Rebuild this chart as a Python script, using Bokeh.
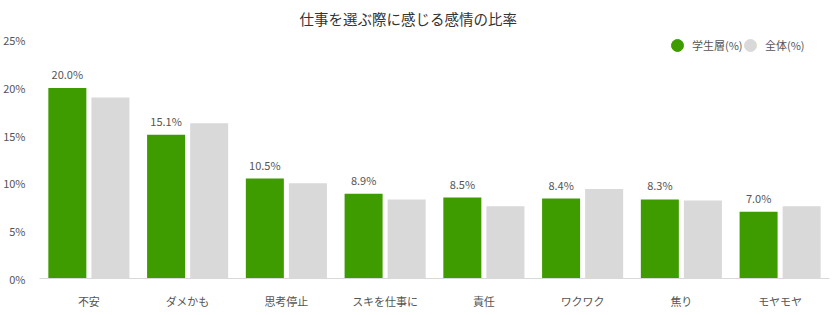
from bokeh.plotting import figure
from bokeh.models import ColumnDataSource, Legend, LegendItem, PrintfTickFormatter, LabelSet
from bokeh.core.properties import value
from bokeh.transform import dodge
from bokeh.embed import file_html
from bokeh.resources import INLINE

categories = ["不安", "ダメかも", "思考停止", "スキを仕事に", "責任", "ワクワク", "焦り", "モヤモヤ"]
students = [20.0, 15.1, 10.5, 8.9, 8.5, 8.4, 8.3, 7.0]
overall = [19.0, 16.3, 10.0, 8.3, 7.6, 9.4, 8.2, 7.6]
yticks = [0, 5, 10, 15, 20, 25]

FONT = "Noto Sans CJK JP"
GREEN = "#3f9c00"
GRAY = "#d9d9d9"

src = ColumnDataSource(dict(
    cat=categories, s=students, o=overall,
    lbl=[f"{v:.1f}%" for v in students],
))

p = figure(x_range=categories, y_range=(0, 26.05), width=840, height=315,
           output_backend="svg", toolbar_location=None,
           min_border_left=39, min_border_right=11, min_border_top=30, min_border_bottom=37)

g = p.vbar(x=dodge("cat", -0.218, range=p.x_range), top="s", width=0.385, source=src,
           color=GREEN, line_color=None)
h = p.vbar(x=dodge("cat", 0.218, range=p.x_range), top="o", width=0.385, source=src,
           color=GRAY, line_color=None)

labels = LabelSet(x=dodge("cat", -0.218, range=p.x_range), y="s", text="lbl", source=src,
                  text_align="center", text_baseline="bottom", y_offset=6,
                  text_font=value(FONT), text_font_size=value("11px"), text_color="#555555")
p.add_layout(labels)

# legend glyphs (not drawn in the plot area)
dummy = ColumnDataSource(dict(x=[categories[0]], y=[float("nan")]))
lg = p.scatter("x", "y", source=dummy, size=14, color=GREEN)
lo = p.scatter("x", "y", source=dummy, size=14, color=GRAY)
common = dict(label_text_font=FONT, label_text_font_size="11px", label_text_color="#555555",
              background_fill_alpha=0, border_line_color=None,
              glyph_width=30, glyph_height=30, label_standoff=0, margin=0, padding=0)
legend_a = Legend(items=[LegendItem(label="学生層(%)", renderers=[lg])], **common)
legend_a.location = (623, 218)
legend_b = Legend(items=[LegendItem(label="全体(%)", renderers=[lo])], **common)
legend_b.location = (696, 218)
p.add_layout(legend_a)
p.add_layout(legend_b)

p.title.text = "仕事を選ぶ際に感じる感情の比率"
p.title.text_font = FONT
p.title.text_font_size = "14.5px"
p.title.text_font_style = "normal"
p.title.text_color = "#333333"
p.title.align = "left"
p.title.offset = 260
p.title.standoff = 4

p.yaxis.ticker = yticks
p.yaxis.formatter = PrintfTickFormatter(format="%d%%")
p.yaxis.axis_line_color = None
p.yaxis.major_tick_line_color = None
p.yaxis.minor_tick_line_color = None
p.yaxis.major_label_text_font = FONT
p.yaxis.major_label_text_font_size = "11px"
p.yaxis.major_label_text_color = "#555555"
p.yaxis.major_label_standoff = 8

p.xaxis.axis_line_color = GRAY
p.xaxis.major_tick_line_color = None
p.xaxis.minor_tick_line_color = None
p.xaxis.major_label_text_font = FONT
p.xaxis.major_label_text_font_size = "11px"
p.xaxis.major_label_text_color = "#555555"
p.xaxis.major_label_standoff = 8

p.xgrid.grid_line_color = None
p.ygrid.grid_line_color = None
p.outline_line_color = None
p.x_range.range_padding = 0

open("out.html", "w").write(file_html(p, INLINE))
